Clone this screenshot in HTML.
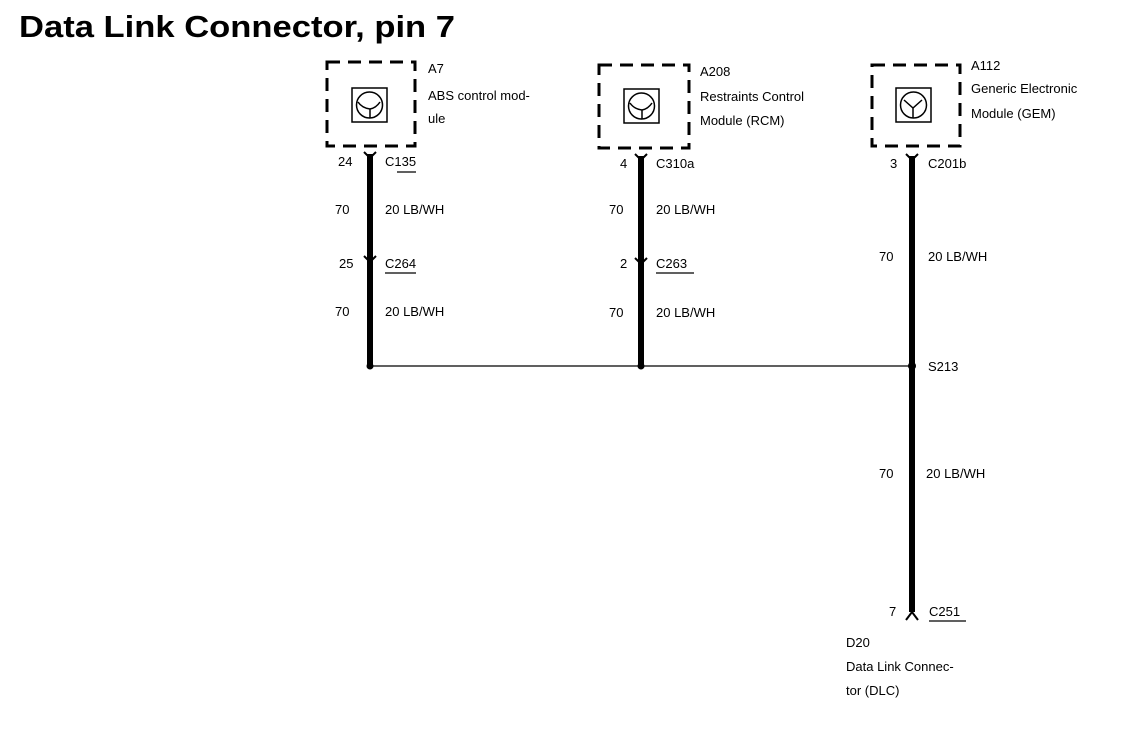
<!DOCTYPE html>
<html><head><meta charset="utf-8"><style>
html,body{margin:0;padding:0;background:#fff;}
svg{display:block;}
text{font-family:"Liberation Sans",sans-serif;font-size:13px;fill:#000;}
</style></head><body>
<svg width="1136" height="752" viewBox="0 0 1136 752" xmlns="http://www.w3.org/2000/svg">
<text x="19" y="37" style="font-size:31px;font-weight:bold" textLength="436" lengthAdjust="spacingAndGlyphs">Data Link Connector, pin 7</text>

<g fill="none" stroke="#000" stroke-width="3" stroke-dasharray="13,8">
<rect x="327" y="62" width="88" height="84"/>
<rect x="599" y="65" width="90" height="83"/>
<rect x="872" y="65" width="88" height="81"/>
</g>
<g fill="none" stroke="#000" stroke-width="1.5">
<rect x="352" y="88" width="35" height="34"/>
<circle cx="369.5" cy="105" r="13"/>
<path d="M358 102 Q362 108 370 109 Q376 108 380 102 M370 109 V118"/>
<rect x="624" y="89" width="35" height="34"/>
<circle cx="641.5" cy="106" r="13"/>
<path d="M630 103 Q634 109 642 110 Q648 109 652 103 M642 110 V119"/>
<rect x="896" y="88" width="35" height="34"/>
<circle cx="913.5" cy="105" r="13"/>
<path d="M904 100 L913 108 L922 100 M913 108 V118"/>
</g>

<g stroke="#000" stroke-width="6">
<line x1="370" y1="154" x2="370" y2="366"/>
<line x1="641" y1="156" x2="641" y2="366"/>
<line x1="912" y1="156" x2="912" y2="612"/>
</g>
<line x1="370" y1="366" x2="912" y2="366" stroke="#000" stroke-width="1.3"/>
<g fill="#000"><circle cx="370" cy="366" r="3.5"/><circle cx="641" cy="366" r="3.5"/><circle cx="912" cy="366" r="4"/></g>
<g fill="none" stroke="#000" stroke-width="2">
<path d="M364 152 L370 158 L376 152"/>
<path d="M364 256 L370 262 L376 256"/>
<path d="M635 154 L641 160 L647 154"/>
<path d="M635 258 L641 264 L647 258"/>
<path d="M906 154 L912 160 L918 154"/>
<path d="M906 620 L912 612 L918 620"/>
</g>

<text x="428" y="73">A7</text>
<text x="428" y="100">ABS control mod-</text>
<text x="428" y="123">ule</text>
<text x="700" y="76">A208</text>
<text x="700" y="101">Restraints Control</text>
<text x="700" y="125">Module (RCM)</text>
<text x="971" y="70">A112</text>
<text x="971" y="93">Generic Electronic</text>
<text x="971" y="118">Module (GEM)</text>

<text x="338" y="166">24</text><text x="385" y="166">C135</text>
<text x="335" y="214">70</text><text x="385" y="214">20 LB/WH</text>
<text x="339" y="268">25</text><text x="385" y="268">C264</text>
<text x="335" y="316">70</text><text x="385" y="316">20 LB/WH</text>

<text x="620" y="168">4</text><text x="656" y="168">C310a</text>
<text x="609" y="214">70</text><text x="656" y="214">20 LB/WH</text>
<text x="620" y="268">2</text><text x="656" y="268">C263</text>
<text x="609" y="317">70</text><text x="656" y="317">20 LB/WH</text>

<text x="890" y="168">3</text><text x="928" y="168">C201b</text>
<text x="879" y="261">70</text><text x="928" y="261">20 LB/WH</text>
<text x="928" y="371">S213</text>
<text x="879" y="478">70</text><text x="926" y="478">20 LB/WH</text>
<text x="889" y="616">7</text><text x="929" y="616">C251</text>
<text x="846" y="647">D20</text>
<text x="846" y="671">Data Link Connec-</text>
<text x="846" y="695">tor (DLC)</text>

<g stroke="#000" stroke-width="1.3">
<line x1="397" y1="172" x2="416" y2="172"/>
<line x1="385" y1="273" x2="416" y2="273"/>
<line x1="656" y1="273" x2="694" y2="273"/>
<line x1="929" y1="621" x2="966" y2="621"/>
</g>
</svg>
</body></html>
